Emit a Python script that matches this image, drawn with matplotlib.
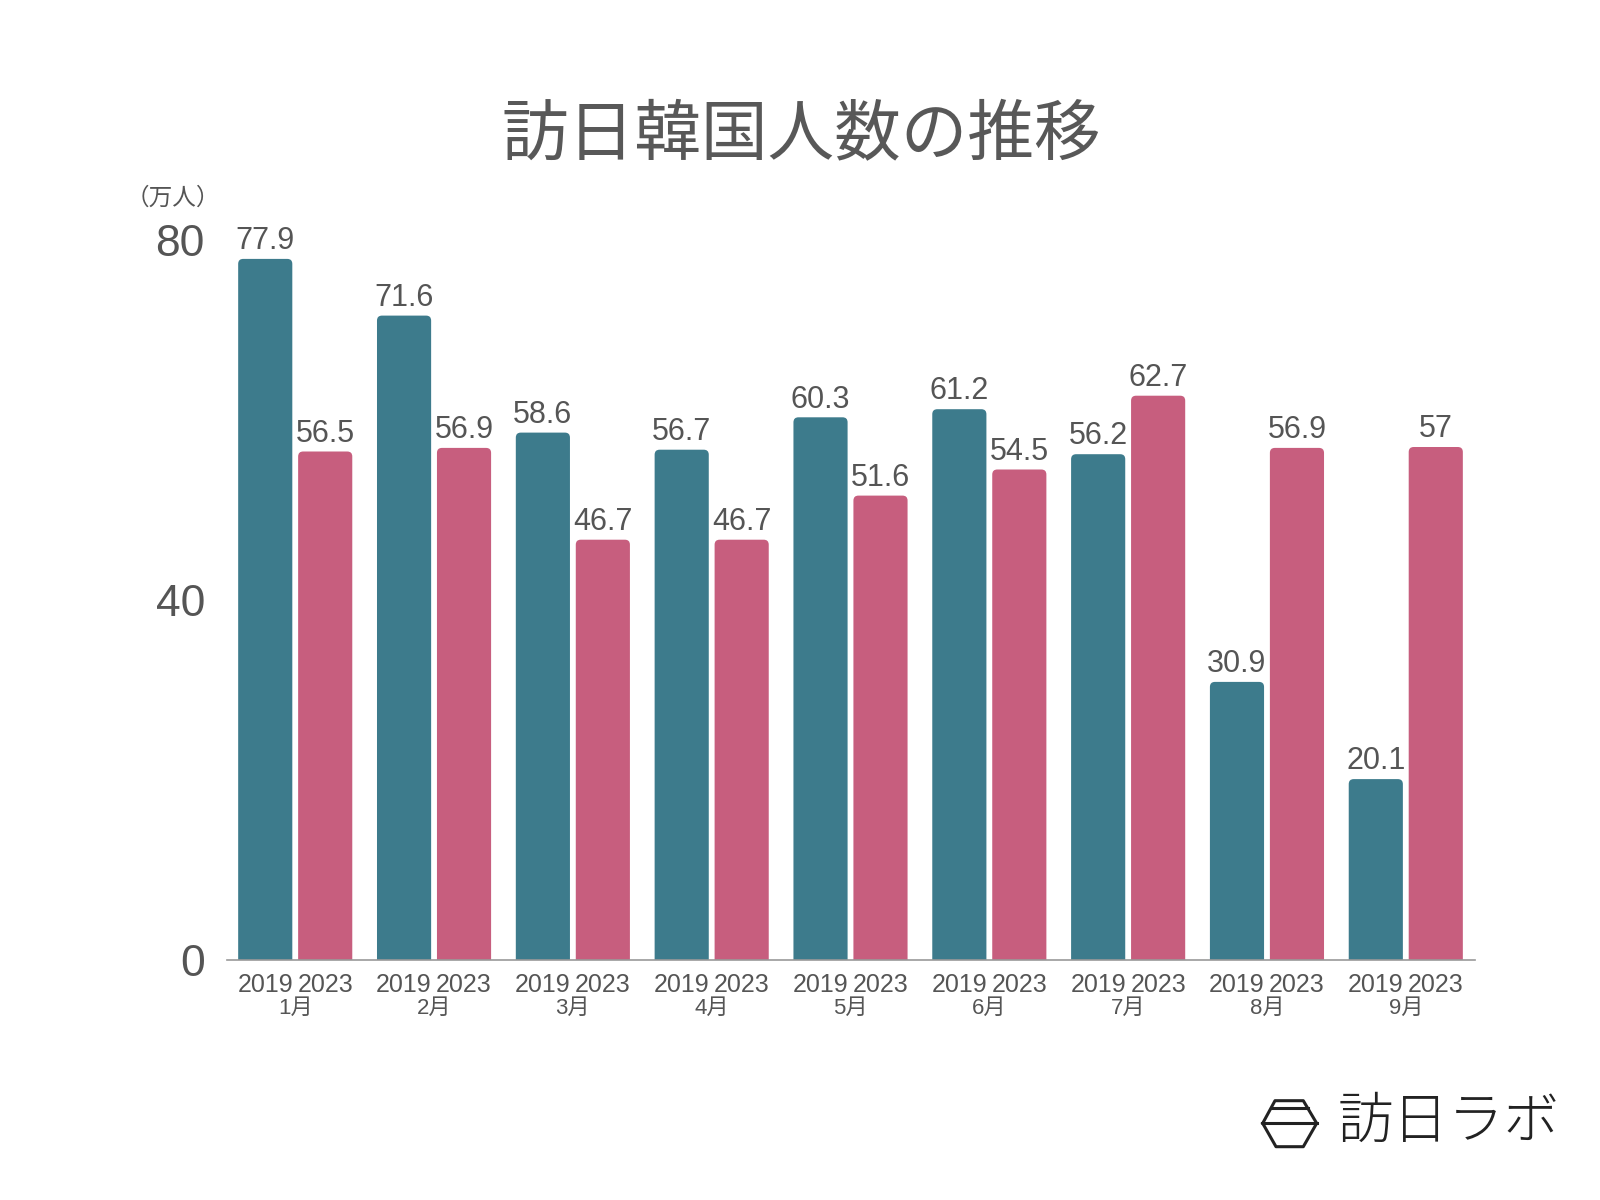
import numpy as np
import matplotlib
matplotlib.use("Agg")
import matplotlib.pyplot as plt
from matplotlib.lines import Line2D
from matplotlib.patches import FancyBboxPatch

plt.rcParams['font.family'] = ['Liberation Sans', 'Noto Sans CJK JP', 'DejaVu Sans']

# data
months = ["1月", "2月", "3月", "4月", "5月", "6月", "7月", "8月", "9月"]
years = ["2019", "2023"]
v2019 = [77.9, 71.6, 58.6, 56.7, 60.3, 61.2, 56.2, 30.9, 20.1]
v2023 = [56.5, 56.9, 46.7, 46.7, 51.6, 54.5, 62.7, 56.9, 57]

TEAL = "#3d7b8c"
PINK = "#c75e7e"
TXT = "#555555"

fig = plt.figure(figsize=(16, 12), dpi=100)
ax = fig.add_axes([0.142, 0.2, 0.78, 0.6])

x = np.arange(len(months))
off = 0.216
w = 0.39

ax.set_xlim(-0.49, 8.5)
ax.set_ylim(0, 80)

b1 = ax.bar(x - off, v2019, width=w, color=TEAL)
b2 = ax.bar(x + off, v2023, width=w, color=PINK)

# swap plain bars for ones with rounded top corners
px_x = 0.78 * 1600 / (8.5 + 0.49)   # pixels per x unit
px_y = 0.6 * 1200 / 80.0            # pixels per y unit
rad = 5.0 / px_x
for bars in (b1, b2):
    for b in bars:
        b.set_visible(False)
        p = FancyBboxPatch((b.get_x(), -2), b.get_width(), b.get_height() + 2,
                           boxstyle=f"round,pad=0,rounding_size={rad}",
                           mutation_aspect=px_x / px_y,
                           facecolor=b.get_facecolor(), edgecolor="none")
        ax.add_patch(p)

for bars, vals in [(b1, v2019), (b2, v2023)]:
    for b, v in zip(bars, vals):
        ax.annotate(f"{v:g}", (b.get_x() + b.get_width() / 2, v),
                    xytext=(0, 2), textcoords="offset points",
                    ha="center", va="bottom", fontsize=22, color=TXT)

# year ticks under each bar, month ticks under each group
ax.set_xticks(np.concatenate([x - off, x + off]))
ax.set_xticklabels([years[0]] * len(x) + [years[1]] * len(x))
ax.set_xticks(x, minor=True)
ax.set_xticklabels(months, minor=True)
ax.tick_params(axis="x", which="major", length=0, pad=9, labelsize=18, colors=TXT)
ax.tick_params(axis="x", which="minor", length=0, pad=27, labelsize=16, colors=TXT)

ax.set_yticks([0, 40, 80])
ax.tick_params(axis="y", length=0, pad=16, labelsize=32, colors=TXT)

for s in ["top", "right", "left"]:
    ax.spines[s].set_visible(False)
ax.spines["bottom"].set_color("#999999")
ax.spines["bottom"].set_linewidth(1.2)

fig.text(0.501, 0.886, "訪日韓国人数の推移", ha="center", va="center",
         fontsize=48, color="#585858", family=['Noto Sans CJK JP'])
fig.text(0.108, 0.835, "（万人）", ha="center", va="center",
         fontsize=17, color=TXT, family=['Noto Sans CJK JP'])

# logo
H = 1200.0
W = 1600.0
hx = [1262.7, 1275, 1303.3, 1316.7, 1303.3, 1276, 1262.7]
hy = [1123.3, 1100.7, 1100.7, 1123.3, 1146.7, 1146.7, 1123.3]
fig.add_artist(Line2D([p / W for p in hx], [1 - p / H for p in hy],
                      color="#222222", lw=2.2, transform=fig.transFigure))
fig.add_artist(Line2D([1262.7 / W, 1316.7 / W], [1 - 1123.3 / H] * 2,
                      color="#222222", lw=2.2, transform=fig.transFigure))
fig.add_artist(Line2D([1271.5 / W, 1307.5 / W], [1 - 1108.3 / H] * 2,
                      color="#222222", lw=2.2, transform=fig.transFigure))
fig.text(1449 / W, 1 - 1122 / H, "訪日ラボ", ha="center", va="center",
         fontsize=40, color="#222222", fontweight="light",
         family=['Noto Sans CJK JP'])

fig.savefig("out.png", dpi=100, facecolor="white")
